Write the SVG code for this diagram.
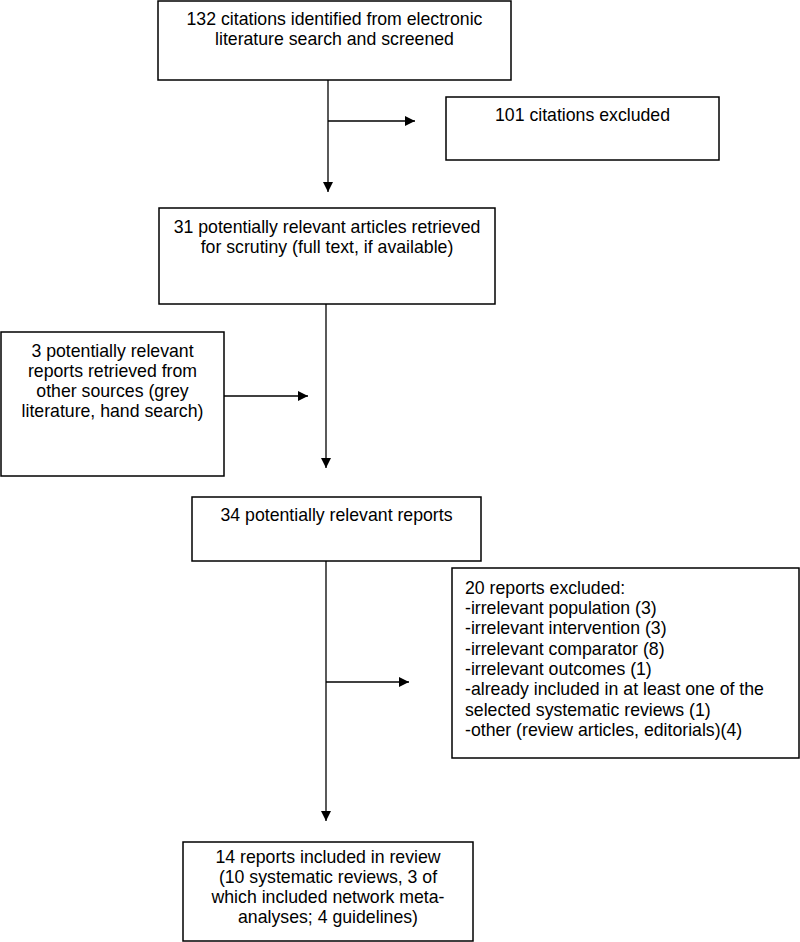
<svg xmlns="http://www.w3.org/2000/svg" width="800" height="942" viewBox="0 0 800 942">
<style>
.box{fill:#fff;stroke:#000;stroke-width:1.5}
.t{font-family:"Liberation Sans",Arial,sans-serif;font-size:17.7px;fill:#000}
.c{text-anchor:middle}
.ln{stroke:#000;stroke-width:1.3;fill:none}
</style>
<defs>
<marker id="ah" viewBox="0 0 10 10" refX="10" refY="5" markerWidth="10" markerHeight="10" markerUnits="userSpaceOnUse" orient="auto">
<path d="M0,0 L10,5 L0,10 Z" fill="#000"/>
</marker>
</defs>
<rect width="800" height="942" fill="#fff"/>
<g id="connectors">
<line class="ln" x1="328" y1="80" x2="328" y2="192" marker-end="url(#ah)"/>
<line class="ln" x1="328" y1="121" x2="415" y2="121" marker-end="url(#ah)"/>
<line class="ln" x1="326" y1="304" x2="326" y2="468" marker-end="url(#ah)"/>
<line class="ln" x1="224" y1="396" x2="308" y2="396" marker-end="url(#ah)"/>
<line class="ln" x1="326" y1="561" x2="326" y2="821" marker-end="url(#ah)"/>
<line class="ln" x1="326" y1="682" x2="409" y2="682" marker-end="url(#ah)"/>
</g>
<g id="n1">
<rect class="box" x="158" y="1" width="353" height="79"/>
<text class="t c" x="334.5" y="25">132 citations identified from electronic</text>
<text class="t c" x="334.5" y="45">literature search and screened</text>
</g>
<g id="n2">
<rect class="box" x="446" y="97" width="273" height="63"/>
<text class="t c" x="582.5" y="121">101 citations excluded</text>
</g>
<g id="n3">
<rect class="box" x="159" y="208" width="336" height="96"/>
<text class="t c" x="327" y="233">31 potentially relevant articles retrieved</text>
<text class="t c" x="327" y="253">for scrutiny (full text, if available)</text>
</g>
<g id="n4">
<rect class="box" x="1" y="332" width="223" height="144"/>
<text class="t c" x="112.5" y="357">3 potentially relevant</text>
<text class="t c" x="112.5" y="377">reports retrieved from</text>
<text class="t c" x="112.5" y="397">other sources (grey</text>
<text class="t c" x="112.5" y="417">literature, hand search)</text>
</g>
<g id="n5">
<rect class="box" x="192" y="497" width="289" height="64"/>
<text class="t c" x="336.5" y="521">34 potentially relevant reports</text>
</g>
<g id="n6">
<rect class="box" x="452" y="568" width="347" height="190"/>
<text class="t" x="465" y="594">20 reports excluded:</text>
<text class="t" x="465" y="614">-irrelevant population (3)</text>
<text class="t" x="465" y="634">-irrelevant intervention (3)</text>
<text class="t" x="465" y="655">-irrelevant comparator (8)</text>
<text class="t" x="465" y="675">-irrelevant outcomes (1)</text>
<text class="t" x="465" y="695">-already included in at least one of the</text>
<text class="t" x="465" y="716">selected systematic reviews (1)</text>
<text class="t" x="465" y="736">-other (review articles, editorials)(4)</text>
</g>
<g id="n7">
<rect class="box" x="183" y="842" width="290" height="99"/>
<text class="t c" x="328" y="863">14 reports included in review</text>
<text class="t c" x="328" y="883">(10 systematic reviews, 3 of</text>
<text class="t c" x="328" y="903">which included network meta-</text>
<text class="t c" x="328" y="923">analyses; 4 guidelines)</text>
</g>
</svg>
